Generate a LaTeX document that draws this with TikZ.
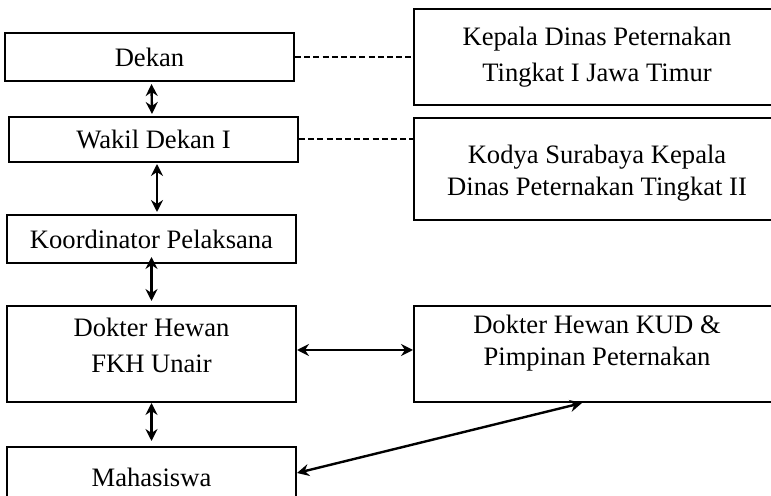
\documentclass[tikz,border=0pt]{standalone}
\usepackage{fontspec}
\setmainfont{Liberation Serif}
\usepackage{tikz}
\usetikzlibrary{arrows.meta}

% raise the text of a box without changing its size
\newcommand{\liftlines}[2]{\raisebox{#1}[\height][\depth]{\begin{tabular}{@{}c@{}}#2\end{tabular}}}

\tikzset{
  box/.style={draw, line width=1pt, align=center, inner sep=0pt,
    font=\fontsize{13.3}{16}\selectfont},
  link/.style={line width=1.2pt, {Stealth[length=6pt,width=6pt,inset=2pt]}-{Stealth[length=6pt,width=6pt,inset=2pt]}},
  dashlink/.style={line width=1pt, dash pattern=on 3pt off 1.6pt}
}

\begin{document}
\begin{tikzpicture}[x=0.5pt,y=-0.5pt]
  \useasboundingbox (0,0) rectangle (771,496);
  \clip (0,0) rectangle (771,496);

  % Left column
  \node[box, minimum width=144.5pt, minimum height=24pt] (dekan) at (149.5,57) {Dekan};
  \node[box, minimum width=144.5pt, minimum height=22.5pt] (wakil) at (153.5,139.5) {Wakil Dekan I};
  \node[box, minimum width=144.5pt, minimum height=24pt] (koord) at (151.5,239) {Koordinator Pelaksana};
  \node[box, minimum width=144.5pt, minimum height=48pt] (dokter) at (151.5,354) {\liftlines{3pt}{Dokter Hewan\\[2pt]FKH Unair}};
  \node[box, minimum width=144.5pt, minimum height=30pt] (mhs) at (151.5,477) {Mahasiswa};

  % Right column
  \node[box, minimum width=183pt, minimum height=48pt] (kepala) at (597,57) {Kepala Dinas Peternakan\\[2pt]Tingkat I Jawa Timur};
  \node[box, minimum width=183pt, minimum height=51pt] (kodya) at (597,169) {\liftlines{-2pt}{Kodya Surabaya Kepala\\Dinas Peternakan Tingkat II}};
  \node[box, minimum width=183pt, minimum height=48pt] (kud) at (597,354) {\liftlines{5.5pt}{Dokter Hewan KUD \&\\Pimpinan Peternakan}};

  % Coordination lines
  \draw[dashlink] (dekan.east) -- (kepala.west);
  \draw[dashlink] (wakil.east) -- (wakil.east -| kodya.west);

  % Vertical links
  \draw[link] ([xshift=1pt,yshift=-1pt]dekan.south) -- ([xshift=-0.75pt,yshift=1pt]wakil.north);
  \draw[link] ([xshift=1.75pt,yshift=-0.5pt]wakil.south) -- ([xshift=2.75pt,yshift=1pt]koord.north);
  \draw[link] ([yshift=3.5pt]koord.south) -- ([yshift=2pt]dokter.north);
  \draw[link] (dokter.south) -- ([yshift=2.5pt]mhs.north);

  % Horizontal and diagonal links
  \draw[link] ([yshift=2pt]dokter.east) -- ([yshift=2pt]kud.west);
  \draw[link] ([yshift=2pt]mhs.east) -- ([xshift=-7.5pt]kud.south);
\end{tikzpicture}
\end{document}
